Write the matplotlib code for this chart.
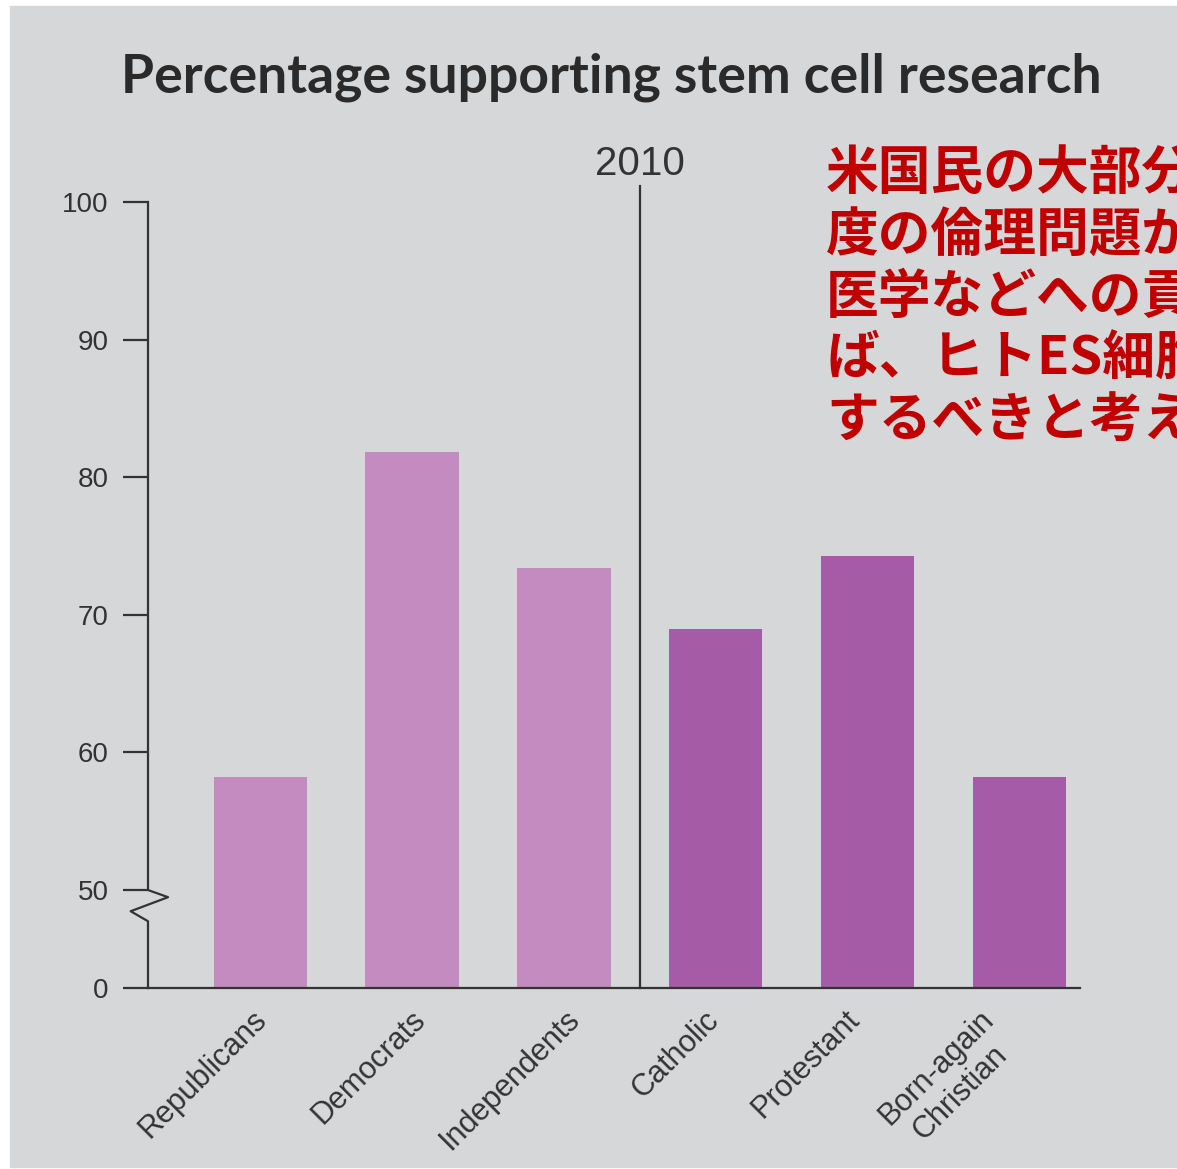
import matplotlib
matplotlib.use("Agg")
import matplotlib.pyplot as plt
import matplotlib.transforms as mtransforms
from matplotlib.patches import Rectangle

# data
groups = ["Republicans", "Democrats", "Independents",
          "Catholic", "Protestant", "Born-again\nChristian"]
support = [58.2, 81.8, 73.4, 69.0, 74.3, 58.2]
is_religion = [False, False, False, True, True, True]
ytick_values = [0, 50, 60, 70, 80, 90, 100]
title = "Percentage supporting stem cell research"
year_label = "2010"
note_lines = [
    "米国民の大部分はある程",
    "度の倫理問題があっても、",
    "医学などへの貢献が期待できれ",
    "ば、ヒトES細胞研究を推進",
    "するべきと考えている。",
]

W, H = 1177, 1169
BG = "#d6d7d9"
INK = "#333333"
LIGHT = "#c48bc0"
DARK = "#a55ba5"

# the axis is broken between 0 and 50, so 0 sits just below the 50 line
BASE = 42.88

# hand nudges (in points) for the slanted category labels
label_nudge = [-6, -1, 0, -9, -17, -30]


def axis_pos(v):
    return v if v >= 50 else BASE + (50 - BASE) * v / 50


fig = plt.figure(figsize=(W / 100, H / 100), dpi=100, facecolor="white")
fig.patches.append(Rectangle((10 / W, 2 / H), 1, (1167 - 6) / H,
                             transform=fig.transFigure, color=BG, zorder=-5))

ax = fig.add_axes([148 / W, (H - 988) / H, (1080 - 148) / W, (988 - 202) / H])
ax.patch.set_visible(False)
ax.set_zorder(2)
ax.set_xlim(-0.737, 5.395)
ax.set_ylim(BASE, 100)

x = list(range(len(groups)))
colors = [DARK if r else LIGHT for r in is_religion]
ax.bar(x, [v - BASE for v in support], bottom=BASE, width=0.612,
       color=colors, zorder=2)

# spines / ticks
for s in ["top", "right", "left"]:
    ax.spines[s].set_visible(False)
ax.spines["bottom"].set_linewidth(1.6)
ax.spines["bottom"].set_color(INK)
ax.set_xticks([])
ax.set_yticks([axis_pos(v) for v in ytick_values])
ax.set_yticklabels([str(v) for v in ytick_values], fontsize=20,
                   family="Liberation Sans")
ax.tick_params(axis="y", length=18, width=1.6, pad=10.5, color=INK,
               labelcolor=INK)

# left axis line with the zigzag break
trans = mtransforms.blended_transform_factory(ax.transAxes, ax.transData)
ax.plot([0, 0, 0.0215, -0.0186, 0, 0],
        [100, 50, 49.48, 48.46, 47.73, BASE],
        transform=trans, color=INK, lw=1.6, clip_on=False, zorder=3)

# divider between party and religion groups
ax.plot([2.5, 2.5], [BASE, 101.16], color=INK, lw=1.6, clip_on=False, zorder=3)
ax.text(2.5, 101.95, year_label, ha="center", va="baseline", fontsize=29,
        family="Liberation Sans", color=INK)

# slanted category labels
for xi, name, dx in zip(x, groups, label_nudge):
    off = mtransforms.offset_copy(ax.transData, fig=fig, x=dx, y=-12,
                                  units="points")
    ax.text(xi, BASE, name, transform=off, rotation=45,
            rotation_mode="anchor", ha="right", va="top", ma="center",
            fontsize=22, family="Liberation Sans", color=INK)

fig.text(611 / W, 1 - 92 / H, title, ha="center", va="baseline",
         fontsize=38.5, fontweight="bold", family="Lato", color="#2a2a2a")

for i, line in enumerate(note_lines):
    fig.text(826 / W, 1 - (173 + 62 * i) / H, line, ha="left", va="center",
             fontsize=38, fontweight="bold", family="Noto Sans CJK JP",
             color="#c00000")

fig.savefig("out.png", dpi=100, facecolor="white")
